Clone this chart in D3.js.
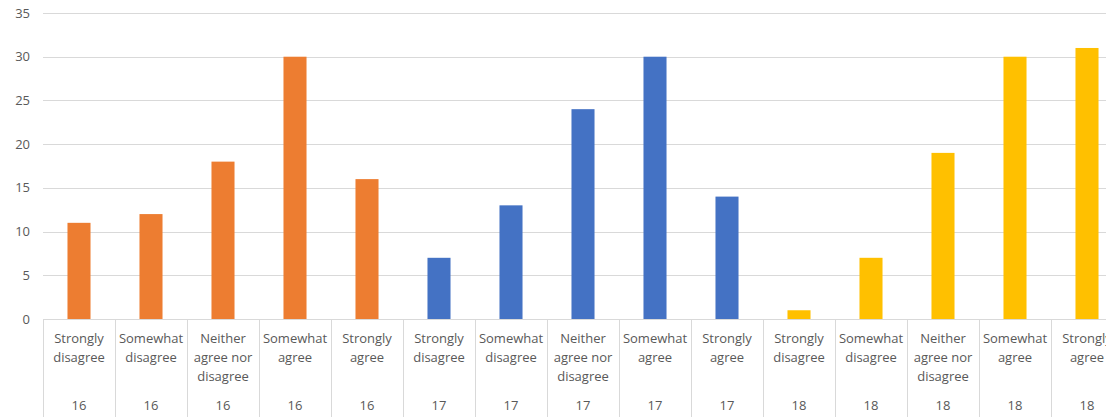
<!DOCTYPE html>
<html>
<head>
<meta charset="utf-8">
<script src="https://cdn.jsdelivr.net/npm/d3@7"></script>
<style>
  html, body { margin: 0; padding: 0; background: #fff; overflow: hidden; }
  svg { display: block; font-family: "Open Sans", "Noto Sans", sans-serif; }
</style>
</head>
<body>
<svg id="chart" width="1106" height="417"></svg>
<script>
// Survey responses, grouped by age
const responses = ["Strongly disagree", "Somewhat disagree", "Neither agree nor disagree", "Somewhat agree", "Strongly agree"];
const groups = ["16", "17", "18"];
const values16 = [11, 12, 18, 30, 16];
const values17 = [7, 13, 24, 30, 14];
const values18 = [1, 7, 19, 30, 31];
const groupColors = ["#ED7D31", "#4472C4", "#FFC000"];
const yTicks = [0, 5, 10, 15, 20, 25, 30, 35];

const seriesByGroup = [values16, values17, values18];
const rows = [];
groups.forEach((g, gi) => {
  responses.forEach((r, ri) => {
    rows.push({ group: g, gi, response: r, value: seriesByGroup[gi][ri], key: g + "|" + r });
  });
});

(function draw() {
  const W = 1106, H = 417;
  const plotLeft = 43, plotTop = 13, plotBottom = 319;
  const bandW = 72;

  const svg = d3.select("#chart");

  const x = d3.scaleBand()
    .domain(rows.map(d => d.key))
    .range([plotLeft, plotLeft + bandW * rows.length])
    .padding(0);

  const y = d3.scaleLinear().domain([0, 35]).range([plotBottom, plotTop]);

  // horizontal gridlines
  svg.append("g")
    .selectAll("line")
    .data(yTicks)
    .join("line")
    .attr("x1", plotLeft).attr("x2", W)
    .attr("y1", d => Math.round(y(d)) + 0.5).attr("y2", d => Math.round(y(d)) + 0.5)
    .attr("stroke", "#d9d9d9").attr("stroke-width", 1);

  // y tick labels
  svg.append("g")
    .selectAll("text")
    .data(yTicks)
    .join("text")
    .attr("x", 30)
    .attr("y", d => y(d))
    .attr("dy", "0.35em")
    .attr("text-anchor", "end")
    .attr("font-size", 13)
    .attr("fill", "#595959")
    .text(d => d);

  // bars
  const barW = x.bandwidth() * 0.32;
  svg.append("g")
    .selectAll("rect")
    .data(rows)
    .join("rect")
    .attr("x", d => x(d.key) + (x.bandwidth() - barW) / 2)
    .attr("y", d => y(d.value))
    .attr("width", barW)
    .attr("height", d => y(0) - y(d.value))
    .attr("fill", d => groupColors[d.gi]);

  // category separators
  const seps = rows.map(d => x(d.key)).concat([x.range()[1]]);
  svg.append("g")
    .selectAll("line")
    .data(seps)
    .join("line")
    .attr("x1", d => Math.round(d) + 0.5).attr("x2", d => Math.round(d) + 0.5)
    .attr("y1", plotBottom).attr("y2", H)
    .attr("stroke", "#d9d9d9").attr("stroke-width", 1);

  // wrapped response labels
  const ctx = document.createElement("canvas").getContext("2d");
  ctx.font = "13px 'Open Sans'";
  function wrapWords(text, maxW) {
    const words = text.split(" ");
    const lines = [];
    let cur = "";
    words.forEach(w => {
      const t = cur ? cur + " " + w : w;
      if (ctx.measureText(t).width > maxW && cur) { lines.push(cur); cur = w; }
      else cur = t;
    });
    if (cur) lines.push(cur);
    return lines;
  }

  svg.append("g")
    .selectAll("text")
    .data(rows)
    .join("text")
    .attr("text-anchor", "middle")
    .attr("font-size", 13)
    .attr("fill", "#595959")
    .each(function(d) {
      const lines = wrapWords(d.response, 68);
      const cx = x(d.key) + x.bandwidth() / 2;
      d3.select(this).selectAll("tspan")
        .data(lines)
        .join("tspan")
        .attr("x", cx)
        .attr("y", (l, i) => 338 + i * 19)
        .attr("dy", "0.35em")
        .text(l => l);
    });

  // age group labels
  svg.append("g")
    .selectAll("text")
    .data(rows)
    .join("text")
    .attr("x", d => x(d.key) + x.bandwidth() / 2)
    .attr("y", 405)
    .attr("dy", "0.35em")
    .attr("text-anchor", "middle")
    .attr("font-size", 13)
    .attr("fill", "#595959")
    .text(d => d.group);
})();
</script>
</body>
</html>
